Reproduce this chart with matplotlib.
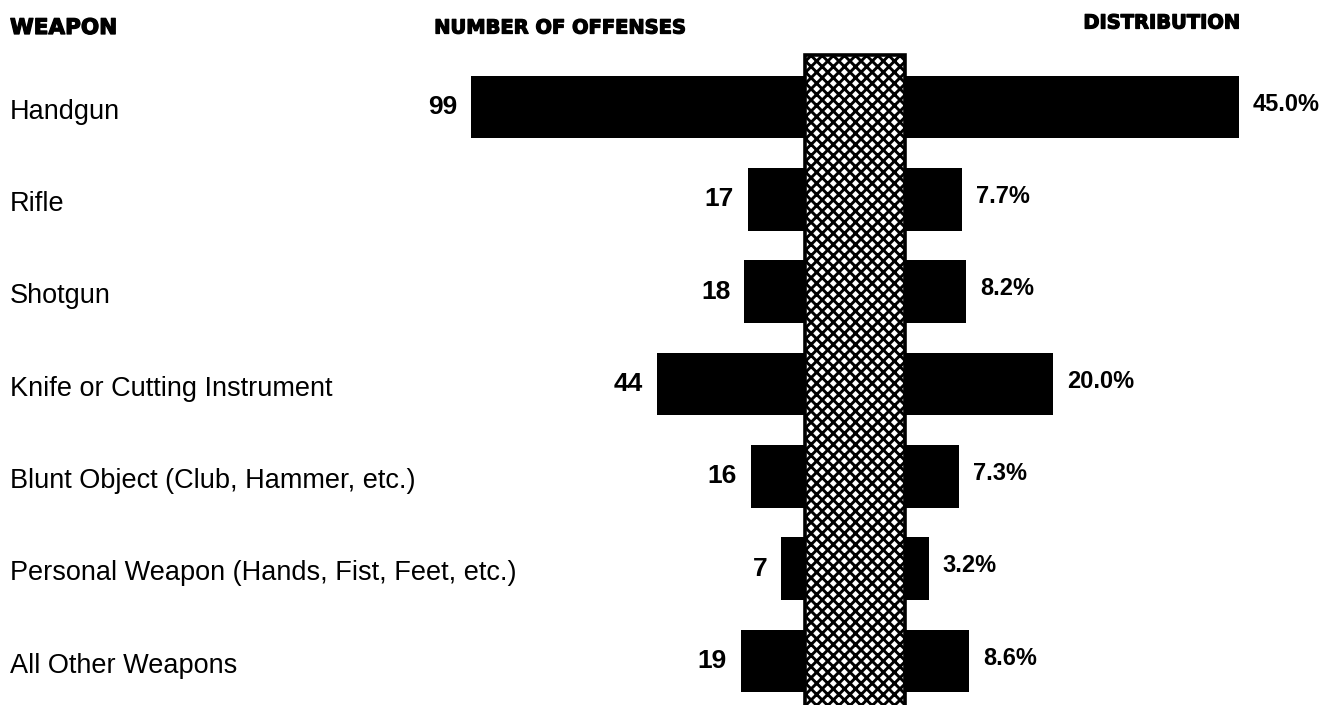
import matplotlib
matplotlib.use("Agg")
import matplotlib.pyplot as plt
import matplotlib.patheffects as pe

# data
weapons = [
    "Handgun",
    "Rifle",
    "Shotgun",
    "Knife or Cutting Instrument",
    "Blunt Object (Club, Hammer, etc.)",
    "Personal Weapon (Hands, Fist, Feet, etc.)",
    "All Other Weapons",
]
offenses = [99, 17, 18, 44, 16, 7, 19]
distribution = [45.0, 7.7, 8.2, 20.0, 7.3, 3.2, 8.6]

total = sum(offenses)          # 220 -> 1% == 2.2 offenses
pct_scale = total / 100.0

plt.rcParams['hatch.linewidth'] = 2.1
plt.rcParams['hatch.color'] = 'black'

fig = plt.figure(figsize=(13.2, 7.05), dpi=100)
ax = fig.add_axes([0, 0, 1, 1])

# x in "offense" units, y in rows
px_per_unit = 3.37
center_px = 855
ax.set_xlim(-center_px / px_per_unit, (1320 - center_px) / px_per_unit)
row_px = 92.3
ax.set_ylim(6 + (705 - 661) / row_px, -107 / row_px)
ax.axis('off')

hw = 50 / px_per_unit   # half width of the central column
rows = list(range(len(weapons)))
bar_h = 0.68

ax.barh(rows, [-v for v in offenses], left=-hw, height=bar_h, color='black')
ax.barh(rows, [p * pct_scale for p in distribution], left=hw, height=bar_h,
        color='black')

# hatched centre column
col_top = -107 / row_px + 55 / row_px
ax.bar(0, 10, bottom=col_top, width=2 * hw, color='white', edgecolor='black',
       hatch='xxx', linewidth=2.6, zorder=3)

gap = 14 / px_per_unit
sans = ['Liberation Sans', 'DejaVu Sans']
for r, v, p in zip(rows, offenses, distribution):
    ax.text(-hw - v - gap, r, str(v), ha='right', va='center', family=sans,
            fontsize=19, fontweight='bold')
    ax.text(hw + p * pct_scale + gap, r - 0.03, f"{p:.1f}%", ha='left',
            va='center', family=sans, fontsize=17, fontweight='bold')

lab_x = -center_px / px_per_unit + 10 / px_per_unit
for r, w in zip(rows, weapons):
    ax.text(lab_x, r + 0.05, w, ha='left', va='center', family=sans,
            fontsize=19.5)

# column headers
head = dict(family=['DejaVu Sans'], fontweight='heavy', va='center',
            path_effects=[pe.withStroke(linewidth=0.9, foreground='black')])
top_y = -107 / row_px
ax.text(lab_x, top_y + 28 / row_px, "WEAPON", ha='left', fontsize=15.5, **head)
ax.text(-center_px / px_per_unit + 560 / px_per_unit, top_y + 28 / row_px,
        "NUMBER OF OFFENSES", ha='center', fontsize=14, **head)
ax.text(-center_px / px_per_unit + 1240 / px_per_unit, top_y + 23 / row_px,
        "DISTRIBUTION", ha='right', fontsize=14, **head)

fig.savefig("out.png", dpi=100)
